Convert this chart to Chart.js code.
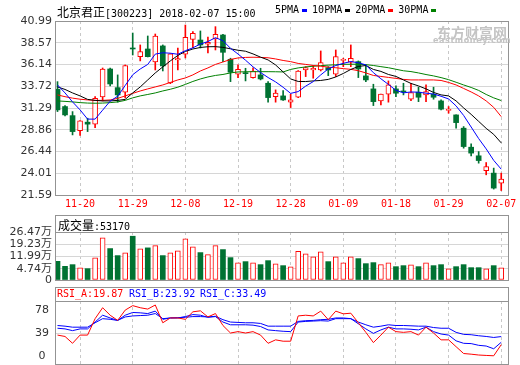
<!DOCTYPE html>
<html>
<head>
<meta charset="utf-8">
<script src="https://cdn.jsdelivr.net/npm/chart.js@4.4.1/dist/chart.umd.min.js"></script>
<style>
  body { margin: 0; background: #fff; width: 520px; height: 365px; overflow: hidden; position: relative; }
  canvas { position: absolute; left: 0; top: 0; }
  .t { position: absolute; white-space: nowrap; font: 10px "DejaVu Sans Mono", monospace; line-height: 14px; color: #000; z-index: 2; }
  .cn { font: 12px "Noto Sans CJK SC", sans-serif; }
  .t i { display: inline-block; width: 5px; height: 3px; margin: 0 5px 0 3px; vertical-align: middle; }
  .wm { position: absolute; color: #c4c4c4; font-weight: bold; white-space: nowrap; z-index: 1; }
</style>
</head>
<body>
<canvas id="price" width="520" height="365"></canvas>
<canvas id="vol" width="520" height="365"></canvas>
<canvas id="rsi" width="520" height="365"></canvas>

<div class="t" style="left:57px;top:3px"><span class="cn">北京君正</span>[300223] 2018-02-07 15:00</div>
<div class="t" style="left:275px;top:3px">5PMA<i style="background:#0000ff"></i>10PMA<i style="background:#000"></i>20PMA<i style="background:#ff0000"></i>30PMA<i style="background:#008000"></i></div>
<div class="wm" style="left:437px;top:22px;font-size:14px;font-family:'Noto Sans CJK SC'">东方财富网</div>
<div class="wm" style="left:433px;top:36px;font-size:8px;font-family:'DejaVu Sans';letter-spacing:0.6px">eastmoney.com</div>
<div class="t" style="left:58px;top:216px"><span class="cn">成交量</span>:53170</div>
<div class="t" style="left:57px;top:287px;color:#ff0000">RSI_A:19.87</div>
<div class="t" style="left:129px;top:287px;color:#0000ff">RSI_B:23.92</div>
<div class="t" style="left:200px;top:287px;color:#0000ff">RSI_C:33.49</div>

<script>
const dates = ['11-15','11-16','11-17','11-20','11-21','11-22','11-23','11-24','11-27','11-28','11-29','11-30',
  '12-01','12-04','12-05','12-06','12-07','12-08','12-11','12-12','12-13','12-14','12-15','12-18','12-19','12-20','12-21','12-22','12-25','12-26','12-27','12-28','12-29',
  '01-02','01-03','01-04','01-05','01-08','01-09','01-10','01-11','01-12','01-15','01-16','01-17','01-18','01-19','01-22','01-23','01-24','01-25','01-26','01-29','01-30','01-31',
  '02-01','02-02','02-05','02-06','02-07'];
const tickDays = ['11-20','11-29','12-08','12-19','12-28','01-09','01-18','01-29','02-07'];
const priceTicks = [21.59, 24.01, 26.44, 28.86, 31.29, 33.72, 36.14, 38.57, 40.99];
const volTicks = [4.74, 11.99, 19.23, 26.47];
const rsiTicks = [0, 39, 78];

const open = [33.38, 31.45, 30.44, 28.77, 29.71, 29.49, 32.53, 35.64, 33.56, 33.05,
  37.98, 37.01, 37.87, 36.42, 38.21, 34.09, 36.65, 37.28, 38.95, 38.87,
  38.40, 38.99, 39.43, 36.72, 35.05, 35.20, 34.68, 34.98, 34.05, 32.56,
  32.64, 31.94, 32.49, 35.53, 35.53, 35.53, 35.79, 35.05, 36.60, 36.39,
  36.46, 34.87, 33.42, 32.08, 32.83, 33.42, 33.16, 32.27, 33.05, 32.75,
  32.83, 32.08, 31.03, 30.52, 29.04, 26.92, 25.96, 24.29, 24.03, 22.92];
const close = [31.08, 30.52, 28.66, 29.85, 29.49, 32.38, 35.64, 33.97, 32.75, 36.03,
  37.87, 37.57, 37.01, 39.32, 35.98, 37.32, 36.81, 39.17, 39.62, 38.32,
  38.62, 39.51, 37.50, 35.28, 35.61, 35.12, 35.42, 34.53, 32.45, 32.94,
  32.19, 32.19, 35.42, 35.79, 35.72, 36.35, 35.53, 37.01, 36.71, 36.84,
  35.64, 34.42, 32.00, 32.83, 33.86, 32.94, 33.08, 33.01, 32.49, 33.12,
  32.49, 31.16, 31.14, 29.66, 26.99, 26.26, 25.43, 24.76, 22.36, 23.36];
const high = [34.23, 31.56, 30.89, 29.90, 30.15, 32.56, 35.75, 35.75, 34.98, 36.09,
  39.65, 38.32, 39.32, 39.54, 38.32, 37.35, 37.98, 40.54, 39.80, 39.88,
  39.21, 40.36, 39.51, 36.84, 36.09, 35.72, 35.76, 35.72, 34.23, 33.31,
  33.23, 32.83, 35.45, 35.90, 36.01, 37.65, 35.90, 37.76, 36.84, 38.32,
  36.54, 36.09, 33.94, 32.85, 34.31, 33.75, 34.05, 34.05, 33.61, 33.86,
  33.61, 32.19, 31.45, 30.52, 29.22, 27.29, 26.43, 25.21, 24.59, 24.03];
const low = [30.89, 30.41, 28.29, 28.22, 28.66, 29.11, 32.08, 33.75, 31.94, 32.42,
  37.20, 36.54, 36.98, 35.53, 35.42, 34.00, 35.53, 36.87, 38.02, 37.98,
  37.43, 37.76, 36.46, 34.23, 34.68, 34.31, 34.61, 34.42, 31.94, 31.94,
  32.14, 31.34, 32.45, 34.79, 34.61, 35.42, 34.90, 34.79, 35.90, 35.90,
  34.68, 34.23, 31.56, 31.64, 31.94, 32.56, 32.75, 32.11, 32.00, 32.00,
  32.27, 31.08, 30.71, 29.04, 26.81, 25.96, 25.14, 23.84, 22.25, 22.09];

const ma5 = [33.86, 32.97, 31.97, 31.08, 30.05, 30.05, 31.05, 32.05, 32.60, 33.80,
  35.00, 35.64, 36.15, 37.30, 37.45, 37.40, 37.28, 37.68, 38.00, 38.42,
  38.70, 39.13, 38.80, 37.95, 37.31, 36.62, 35.88, 35.25, 34.69, 34.20,
  33.60, 32.92, 33.12, 33.73, 34.23, 34.98, 35.65, 36.03, 36.27, 36.47,
  36.33, 36.10, 35.23, 34.55, 33.92, 33.26, 32.98, 33.08, 33.05, 32.94,
  32.85, 32.60, 32.30, 31.52, 30.46, 29.17, 27.88, 26.73, 25.45, 24.47];
const ma10 = [33.64, 33.36, 32.97, 32.64, 32.25, 32.14, 32.08, 32.08, 32.14, 32.25,
  32.97, 33.64, 34.42, 35.20, 35.87, 36.54, 37.15, 37.59, 37.87, 38.04,
  38.12, 38.13, 38.05, 37.89, 37.73, 37.62, 37.32, 36.96, 36.65, 36.09,
  35.31, 34.53, 34.25, 34.24, 34.31, 34.36, 34.48, 34.75, 35.14, 35.59,
  35.92, 36.03, 35.59, 35.37, 35.03, 34.81, 34.42, 34.03, 33.75, 33.42,
  33.03, 32.75, 32.64, 32.08, 31.30, 30.58, 29.80, 29.02, 28.35, 27.40];
const ma20 = [32.75, 32.55, 32.39, 32.27, 32.19, 32.14, 32.14, 32.19, 32.36, 32.64,
  32.92, 33.19, 33.42, 33.64, 33.86, 34.14, 34.42, 34.64, 34.98, 35.42,
  35.76, 36.15, 36.42, 36.70, 36.87, 36.93, 36.95, 36.93, 36.89, 36.76,
  36.59, 36.46, 36.26, 36.15, 36.03, 35.95, 35.85, 35.78, 35.68, 35.60,
  35.45, 35.20, 34.92, 34.81, 34.70, 34.59, 34.48, 34.42, 34.42, 34.42,
  34.42, 34.36, 34.14, 33.86, 33.47, 33.08, 32.64, 32.08, 31.36, 30.33];
const ma30 = [32.08, 32.03, 31.97, 31.89, 31.84, 31.82, 31.84, 31.89, 31.97, 32.14,
  32.42, 32.64, 32.80, 32.97, 33.19, 33.38, 33.61, 33.92, 34.25, 34.53,
  34.75, 34.92, 35.03, 35.20, 35.31, 35.33, 35.34, 35.34, 35.34, 35.33,
  35.31, 35.59, 35.76, 35.87, 35.95, 36.01, 36.07, 36.11, 36.16, 36.17,
  36.17, 36.12, 36.03, 35.90, 35.78, 35.61, 35.44, 35.35, 35.20, 35.02,
  34.87, 34.68, 34.45, 34.16, 33.86, 33.58, 33.25, 32.80, 32.42, 32.12];

// volume in 万
const volume = [9.14, 6.17, 7.18, 5.22, 4.81, 11.16, 23.03, 16.68, 12.52, 14.12,
  23.98, 16.50, 17.09, 18.46, 12.52, 14.12, 15.31, 22.43, 17.68, 14.30,
  13.11, 18.46, 16.08, 11.33, 8.19, 8.96, 8.19, 7.18, 9.55, 7.60,
  6.59, 5.82, 15.07, 13.53, 11.75, 14.72, 8.96, 11.75, 8.19, 11.75,
  10.74, 7.77, 8.37, 7.18, 8.19, 5.99, 6.59, 7.00, 5.99, 8.19,
  6.59, 7.18, 4.63, 5.99, 7.18, 5.40, 5.40, 4.63, 6.59, 5.32];

const rsiA = [36.0, 33.7, 22.2, 36.0, 36.0, 63.6, 82.0, 69.4, 60.7, 78.0,
  85.5, 82.0, 79.7, 86.6, 56.7, 64.8, 64.8, 62.5, 75.1, 76.8,
  66.5, 72.2, 52.1, 39.5, 41.8, 39.5, 41.8, 36.0, 22.2, 28.0,
  25.7, 25.7, 68.2, 69.4, 68.2, 76.3, 61.9, 76.3, 71.7, 72.8,
  56.7, 40.6, 23.4, 36.0, 49.3, 41.8, 40.6, 41.8, 36.0, 49.3,
  39.5, 28.0, 28.0, 16.5, 5.0, 3.9, 2.5, 1.8, 1.2, 19.87];
const rsiB = [47.5, 46.4, 43.5, 46.4, 46.4, 57.9, 69.4, 64.8, 60.7, 69.4,
  74.0, 73.4, 72.2, 76.3, 62.5, 64.8, 64.8, 67.1, 70.5, 69.4,
  65.9, 67.1, 57.9, 53.3, 53.3, 53.3, 52.7, 50.4, 44.7, 43.5,
  42.4, 41.8, 57.9, 59.0, 59.6, 60.2, 59.6, 63.6, 63.6, 63.6,
  55.0, 46.4, 38.9, 44.7, 49.3, 46.4, 46.4, 45.8, 44.7, 49.3,
  41.8, 37.8, 36.0, 26.3, 22.2, 21.7, 18.8, 17.6, 13.0, 23.92];
const rsiC = [52.1, 51.0, 49.3, 49.3, 49.3, 56.7, 63.6, 62.5, 60.7, 66.5,
  68.2, 68.8, 69.4, 72.2, 63.6, 64.8, 65.3, 65.9, 67.1, 67.1,
  66.5, 67.6, 61.9, 57.9, 57.3, 56.7, 56.7, 55.6, 51.0, 51.0,
  51.0, 51.0, 59.0, 60.2, 60.7, 61.9, 62.5, 64.8, 64.8, 63.6,
  57.9, 53.3, 49.3, 51.0, 53.3, 52.1, 52.1, 51.6, 51.0, 51.0,
  48.7, 47.5, 47.5, 40.6, 37.2, 36.6, 34.9, 33.7, 32.0, 33.49];

const RED = '#ff0000', GREEN = '#007232';
const VOL_MIN = -1.9;
const up = close.map((c, i) => c >= open[i]);
const tickIdx = tickDays.map(d => dates.indexOf(d));
const pts = arr => arr.map((v, i) => ({ x: i, y: v }));
const axisFont = { family: '"DejaVu Sans", "Noto Sans CJK SC"', size: 11 };

Chart.defaults.animation = false;

// draws the grey frame (and header row line) around each panel
const panelBox = {
  id: 'panelBox',
  afterDraw(chart, args, opts) {
    const a = chart.chartArea, ctx = chart.ctx;
    const top = opts.headerTop != null ? opts.headerTop : a.top;
    ctx.save();
    ctx.strokeStyle = '#939393';
    ctx.lineWidth = 1;
    ctx.strokeRect(a.left - 0.5, top + 0.5, a.right - a.left + 1, a.bottom - top);
    if (opts.headerTop != null) {
      ctx.beginPath();
      ctx.moveTo(a.left, a.top + 0.5);
      ctx.lineTo(a.right, a.top + 0.5);
      ctx.stroke();
    }
    ctx.restore();
  }
};

function xAxis(showLabels) {
  return {
    type: 'linear', min: -0.2, max: 59.9, offset: false,
    afterBuildTicks: s => { s.ticks = tickIdx.map(v => ({ value: v })); },
    afterFit: s => { s.height = showLabels ? 20 : 0; s.paddingLeft = 0; s.paddingRight = 0; },
    ticks: {
      display: showLabels, autoSkip: false, maxRotation: 0, padding: 3,
      color: RED, font: { family: '"DejaVu Sans Mono"', size: 10 },
      callback: v => dates[v]
    },
    grid: { color: '#c8c8c8', drawTicks: false, offset: false },
    border: { display: false, dash: [3, 3] }
  };
}

function yAxis(min, max, ticks, label, gridColor, align) {
  return {
    min: min, max: max,
    afterBuildTicks: s => { s.ticks = ticks.map(v => ({ value: v })); },
    afterFit: s => { s.width = 56; s.paddingTop = 0; s.paddingBottom = 0; },
    ticks: {
      color: '#333', font: axisFont, autoSkip: false,
      padding: align === 'center' ? 7 : 4, crossAlign: align || 'near', callback: label
    },
    grid: { color: gridColor || '#d6d6d6', drawTicks: false },
    border: { display: false }
  };
}

const common = (padding, box) => ({
  responsive: false,
  events: [],
  layout: { padding: padding, autoPadding: false },
  plugins: { legend: { display: false }, tooltip: { enabled: false }, panelBox: box }
});

const maLine = (label, arr, color, order) => ({
  type: 'line', label: label, data: pts(arr), borderColor: color, borderWidth: 1,
  pointRadius: 0, tension: 0, fill: false, order: order
});

new Chart(document.getElementById('price'), {
  type: 'bar',
  data: {
    datasets: [
      maLine('5PMA', ma5, '#0000ff', -4),
      maLine('10PMA', ma10, '#000000', -3),
      maLine('20PMA', ma20, '#ff0000', -2),
      maLine('30PMA', ma30, '#008000', -1),
      {
        label: 'body', order: 0,
        data: open.map((o, i) => ({ x: i, y: [o, close[i]] })),
        backgroundColor: up.map(u => u ? '#ffffff' : GREEN),
        borderColor: up.map(u => u ? RED : GREEN),
        borderWidth: up.map(u => u ? 1 : 0),
        borderSkipped: false, barThickness: 5, grouped: false, minBarLength: 1
      },
      {
        label: 'wick', order: 1,
        data: low.map((l, i) => ({ x: i, y: [l, high[i]] })),
        backgroundColor: up.map(u => u ? RED : GREEN),
        borderWidth: 0, barThickness: 1, grouped: false
      }
    ]
  },
  options: Object.assign(common({ top: 21, left: 0, right: 12, bottom: 150 }, {}), {
    scales: {
      x: xAxis(true),
      y: yAxis(21.59, 40.99, priceTicks, v => v.toFixed(2))
    }
  }),
  plugins: [panelBox]
});

new Chart(document.getElementById('vol'), {
  type: 'bar',
  data: {
    datasets: [{
      label: '成交量',
      data: volume.map((v, i) => ({ x: i, y: v })),
      base: VOL_MIN,
      backgroundColor: up.map(u => u ? '#ffffff' : GREEN),
      borderColor: up.map(u => u ? RED : GREEN),
      borderWidth: up.map(u => u ? 1 : 0),
      borderSkipped: false, barThickness: 5, grouped: false
    }]
  },
  options: Object.assign(common({ top: 232, left: 0, right: 12, bottom: 85 }, { headerTop: 215 }), {
    scales: {
      x: xAxis(false),
      y: yAxis(VOL_MIN, 26.47, [VOL_MIN].concat(volTicks), v => v === VOL_MIN ? '0' : v.toFixed(2) + '万')
    }
  }),
  plugins: [panelBox]
});

new Chart(document.getElementById('rsi'), {
  type: 'line',
  data: {
    datasets: [
      { label: 'RSI_A', data: pts(rsiA), borderColor: '#ff0000', order: 0 },
      { label: 'RSI_B', data: pts(rsiB), borderColor: '#0000ff', order: 1 },
      { label: 'RSI_C', data: pts(rsiC), borderColor: '#0000ff', order: 2 }
    ].map(d => Object.assign(d, { borderWidth: 1, pointRadius: 0, tension: 0, fill: false }))
  },
  options: Object.assign(common({ top: 301, left: 0, right: 12, bottom: 1 }, { headerTop: 287 }), {
    scales: {
      x: xAxis(false),
      y: yAxis(-12.6, 93.3, rsiTicks, v => String(v),
        c => (c.tick && c.tick.value === 39) ? '#d6d6d6' : 'rgba(0,0,0,0)', 'center')
    }
  }),
  plugins: [panelBox]
});
</script>
</body>
</html>
